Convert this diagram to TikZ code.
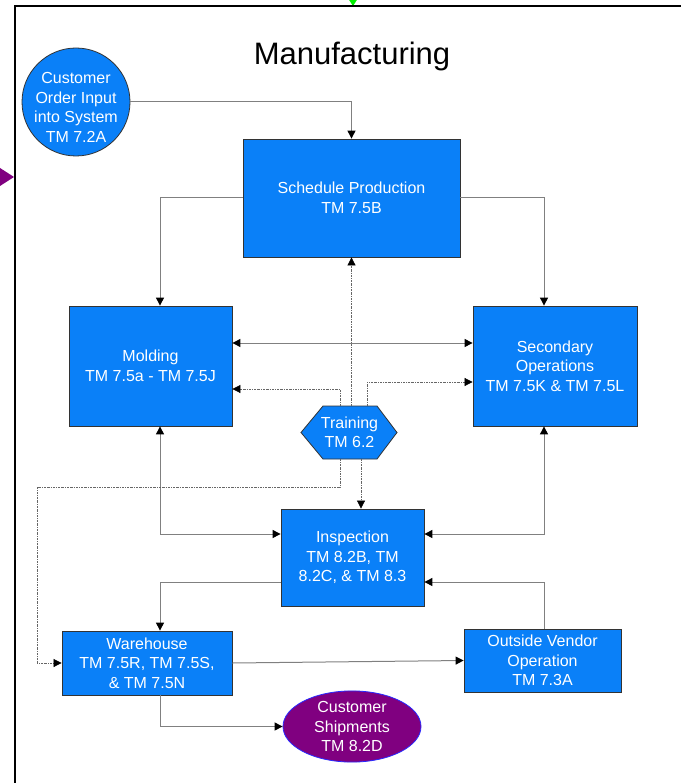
\documentclass[tikz,border=0pt]{standalone}
\usepackage{fontspec}
\setmainfont{Liberation Sans}
\usetikzlibrary{arrows.meta,shapes.geometric}

\definecolor{boxblue}{RGB}{10,128,248}
\definecolor{edgegray}{RGB}{128,128,128}
\definecolor{shipviolet}{RGB}{128,0,128}
\definecolor{rimblue}{RGB}{40,40,255}
\definecolor{offgreen}{RGB}{0,240,0}

\tikzset{
  tip/.tip={Triangle[length=8pt,width=8pt,color=black]},
  boxtext/.style={text=white, align=center, font=\fontsize{16}{19.5}\selectfont},
  procbox/.style={boxtext, draw=black!80, line width=0.8pt, fill=boxblue, inner sep=2pt},
  flow/.style={draw=edgegray, line width=1pt},
  trainflow/.style={draw=black!60, line width=0.7pt,
    dash pattern=on 2pt off 1pt on 0.6pt off 1pt},
}

\begin{document}
\begin{tikzpicture}[x=1pt, y=-1pt]
\useasboundingbox (0,0) rectangle (681,783);

% incoming page markers and frame
\fill[offgreen] (348.5,-1) -- (357.5,-1) -- (353,6) -- cycle;
\fill[shipviolet] (0,168) -- (0,186) -- (14,177) -- cycle;
\draw[black, line width=2.5pt] (15,783) -- (15,6) -- (681,6);

\node[font=\fontsize{31}{36}\selectfont] (title) at (352,56) {Manufacturing};

% process steps
\node[procbox, circle, minimum size=108pt, inner sep=0pt] (co) at (76,102) {};
\node[boxtext, inner sep=0pt] (cotext) at (76,107.5)
  {Customer\\Order Input\\into System\\TM 7.2A};
\node[procbox, minimum width=217pt, minimum height=118pt] (sp) at (351.5,198)
  {Schedule Production\\TM 7.5B};
\node[procbox, minimum width=163pt, minimum height=120pt] (mo) at (150.5,366)
  {Molding\\TM 7.5a - TM 7.5J};
\node[procbox, minimum width=164pt, minimum height=120pt] (so) at (555,366)
  {Secondary\\Operations\\TM 7.5K \& TM 7.5L};
\node[procbox, minimum width=143pt, minimum height=97pt] (in) at (352.5,557.5)
  {Inspection\\TM 8.2B, TM\\8.2C, \& TM 8.3};
\node[procbox, minimum width=170pt, minimum height=64pt] (wh) at (147,663)
  {Warehouse\\TM 7.5R, TM 7.5S,\\\& TM 7.5N};
\node[procbox, minimum width=157pt, minimum height=63pt] (ov) at (542.5,660.5)
  {Outside Vendor\\Operation\\TM 7.3A};
\node[procbox, ellipse, draw=rimblue, fill=shipviolet, minimum width=138pt,
  minimum height=71pt, inner sep=0pt] (cs) at (352,726.5)
  {Customer\\Shipments\\TM 8.2D};

% training hexagon
\filldraw[draw=black!80, line width=0.8pt, fill=boxblue]
  (301,432.5) -- (323,406) -- (377,406) -- (397,432.5) -- (377,459) -- (323,459) -- cycle;
\node[boxtext, inner sep=0pt, minimum width=54pt, minimum height=53pt]
  (tr) at (349.5,432.5) {Training\\TM 6.2};

% solid flow
\draw[flow, -tip] (co.east) -| (sp.north);
\draw[flow, -tip] (sp.west) -| ([xshift=9.5pt]mo.north);
\draw[flow, -tip] (sp.east) -| ([xshift=-11pt]so.north);
\draw[flow, tip-tip] ([yshift=23pt]mo.east) -- ([yshift=23pt]so.west);
\draw[flow, tip-tip] ([xshift=9.5pt]mo.south) |- ([yshift=23.5pt]in.west);
\draw[flow, tip-tip] ([xshift=-11pt]so.south) |- ([yshift=23.5pt]in.east);
\draw[flow, -tip] ([yshift=-24.5pt]in.west) -| ([xshift=13pt]wh.north);
\draw[flow, -tip] ([xshift=1.5pt]ov.north) |- ([yshift=-24.5pt]in.east);
\draw[flow, -tip] (wh.east) -- (ov.west);
\draw[flow, -tip] ([xshift=13pt]wh.south) |- (cs.west);

% training links
\coordinate (trb) at ([xshift=11.5pt]tr.south);
\coordinate (loop) at (37,487);
\draw[trainflow, -tip] (tr.north -| sp.south) -- (sp.south);
\draw[trainflow, -tip] ([xshift=-9.5pt]tr.north) |- ([yshift=-23pt]mo.east);
\draw[trainflow, -tip] ([xshift=17.5pt]tr.north) |- ([yshift=-16pt]so.west);
\draw[trainflow, -tip] ([xshift=-9.5pt]tr.south) |- (loop) |- (wh.west);
\draw[trainflow, -tip] (trb) -- (trb |- in.north);
\end{tikzpicture}
\end{document}
